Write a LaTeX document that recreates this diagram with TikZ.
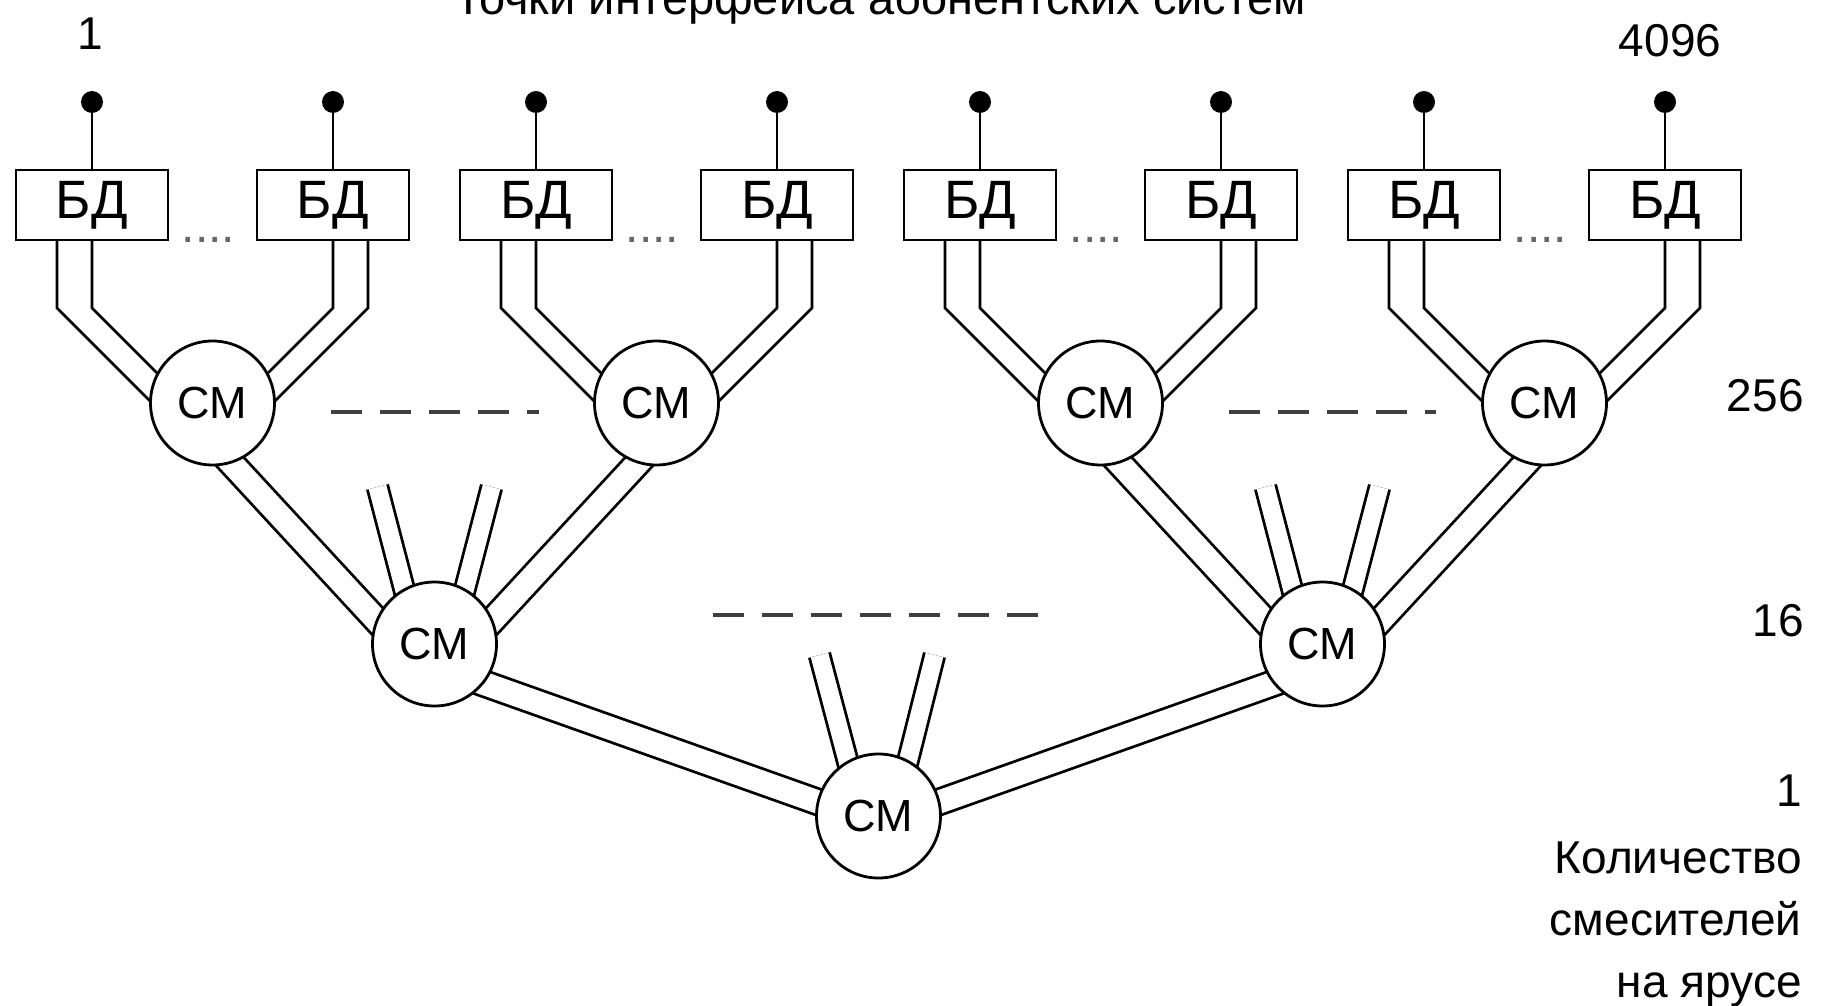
\documentclass[tikz,border=0pt]{standalone}
\usepackage{fontspec}
\setmainfont{Liberation Sans}
\usetikzlibrary{positioning,calc,backgrounds}

\tikzset{
	block/.style={draw, fill=white, minimum width=152pt, minimum height=70pt, inner sep=0pt, outer sep=0pt, font=\fontsize{54}{60}\selectfont},
	mixer/.style={draw, circle, fill=white, minimum size=124pt, inner sep=0pt, outer sep=0pt, font=\fontsize{45}{50}\selectfont},
	term/.style={circle, fill, minimum size=22pt, inner sep=0pt, outer sep=0pt},
	pipe/.style={double, double distance=23pt, shorten <=-12pt, shorten >=-12pt},
	stub/.style={double, double distance=18pt, shorten >=16pt},
	dashrow/.style={line width=4.5pt, black!75, dash pattern=on 31pt off 18pt},
	gapdots/.style={text=black!60, inner sep=0pt, font=\fontsize{48}{48}\selectfont},
	lbl/.style={inner sep=0pt, font=\fontsize{46}{62}\selectfont},
	every on background layer/.style={line width=2.8pt},
}

\begin{document}
\begin{tikzpicture}[x=1pt, y=1pt, line width=2.8pt]
	\useasboundingbox (0,0) rectangle (1824,-1006);

	\node [block] (b1) at (92,-205) {БД};
	\node [block, right=89pt of b1] (b2) {БД};
	\node [block, right=51pt of b2] (b3) {БД};
	\node [block, right=89pt of b3] (b4) {БД};
	\node [block, right=51pt of b4] (b5) {БД};
	\node [block, right=89pt of b5] (b6) {БД};
	\node [block, right=51pt of b6] (b7) {БД};
	\node [block, right=89pt of b7] (b8) {БД};

	\node [term, above=57pt of b1] (a1) {};
	\node [term, above=57pt of b2] (a2) {};
	\node [term, above=57pt of b3] (a3) {};
	\node [term, above=57pt of b4] (a4) {};
	\node [term, above=57pt of b5] (a5) {};
	\node [term, above=57pt of b6] (a6) {};
	\node [term, above=57pt of b7] (a7) {};
	\node [term, above=57pt of b8] (a8) {};

	\node [gapdots, anchor=base] (g1) at ($(b1.south east)!0.5!(b2.south west)+(-4,-2)$) {....};
	\node [gapdots, anchor=base] (g2) at ($(b3.south east)!0.5!(b4.south west)+(-4,-2)$) {....};
	\node [gapdots, anchor=base] (g3) at ($(b5.south east)!0.5!(b6.south west)+(-4,-2)$) {....};
	\node [gapdots, anchor=base] (g4) at ($(b7.south east)!0.5!(b8.south west)+(-4,-2)$) {....};

	\node [mixer] (c1) at ($(b1)!0.5!(b2)+(0,-198)$) {СМ};
	\node [mixer] (c2) at ($(b3)!0.5!(b4)+(0,-198)$) {СМ};
	\node [mixer] (c3) at ($(b5)!0.5!(b6)+(0,-198)$) {СМ};
	\node [mixer] (c4) at ($(b7)!0.5!(b8)+(0,-198)$) {СМ};

	\node [mixer] (d1) at ($(c1)!0.5!(c2)+(0,-241)$) {СМ};
	\node [mixer] (d2) at ($(c3)!0.5!(c4)+(0,-241)$) {СМ};

	\node [mixer] (e) at ($(d1)!0.5!(d2)+(0,-172)$) {СМ};

	\coordinate [above left=157pt and 57pt of d1.center] (s1);
	\coordinate [above right=157pt and 57pt of d1.center] (s2);
	\coordinate [above left=157pt and 57pt of d2.center] (s3);
	\coordinate [above right=157pt and 57pt of d2.center] (s4);
	\coordinate [above left=161pt and 59pt of e.center] (s5);
	\coordinate [above right=161pt and 56pt of e.center] (s6);

	\draw (a1) -- (b1);
	\draw (a2) -- (b2);
	\draw (a3) -- (b3);
	\draw (a4) -- (b4);
	\draw (a5) -- (b5);
	\draw (a6) -- (b6);
	\draw (a7) -- (b7);
	\draw (a8) -- (b8);

	\begin{scope}[on background layer]
		\draw (b1.south) -- ++(0,-68) -- ++(105,-105) ($(b1.south)+(-35,0)$) -- ++(0,-68) -- ++(105,-105);
		\draw (b2.south) -- ++(0,-68) -- ++(-105,-105) ($(b2.south)+(35,0)$) -- ++(0,-68) -- ++(-105,-105);
		\draw (b3.south) -- ++(0,-68) -- ++(105,-105) ($(b3.south)+(-35,0)$) -- ++(0,-68) -- ++(105,-105);
		\draw (b4.south) -- ++(0,-68) -- ++(-105,-105) ($(b4.south)+(35,0)$) -- ++(0,-68) -- ++(-105,-105);
		\draw (b5.south) -- ++(0,-68) -- ++(105,-105) ($(b5.south)+(-35,0)$) -- ++(0,-68) -- ++(105,-105);
		\draw (b6.south) -- ++(0,-68) -- ++(-105,-105) ($(b6.south)+(35,0)$) -- ++(0,-68) -- ++(-105,-105);
		\draw (b7.south) -- ++(0,-68) -- ++(105,-105) ($(b7.south)+(-35,0)$) -- ++(0,-68) -- ++(105,-105);
		\draw (b8.south) -- ++(0,-68) -- ++(-105,-105) ($(b8.south)+(35,0)$) -- ++(0,-68) -- ++(-105,-105);

		\draw [pipe] (c1.-73) -- (d1.158);
		\draw [pipe] (c2.-107) -- (d1.22);
		\draw [pipe] (c3.-73) -- (d2.158);
		\draw [pipe] (c4.-107) -- (d2.22);
		\draw [pipe] (d1.-39) -- (e.167);
		\draw [pipe] (d2.-141) -- (e.13);

		\draw [stub] (s1) -- (d1.south);
		\draw [stub] (s2) -- (d1.south);
		\draw [stub] (s3) -- (d2.south);
		\draw [stub] (s4) -- (d2.south);
		\draw [stub] (s5) -- (e.south);
		\draw [stub] (s6) -- (e.south);
	\end{scope}

	\draw [dashrow] ($(c1.east)+(56,-9)$) -- ($(c2.west)+(-56,-9)$);
	\draw [dashrow] ($(c3.east)+(66,-9)$) -- ($(c4.west)+(-47,-9)$);
	\draw [dashrow] ($(d1.east)+(216,29)$) -- ($(d2.west)+(-222,29)$);

	\node [lbl, anchor=base] (title) at (880,-15) {\fontsize{47}{50}\selectfont Точки интерфейса абонентских систем};
	\node [lbl] (n1) at (90,-34) {1};
	\node [lbl] (n4096) at (1670,-41) {4096};
	\node [lbl, anchor=east] (n256) at (1805,-396) {256};
	\node [lbl, anchor=east] (n16) at (1805,-621) {16};
	\node [lbl, anchor=east] (n1b) at (1803,-791) {1};
	\node [lbl, anchor=north east, align=right] (note) at (1803,-840) {Количество\\смесителей\\на ярусе};
\end{tikzpicture}
\end{document}
